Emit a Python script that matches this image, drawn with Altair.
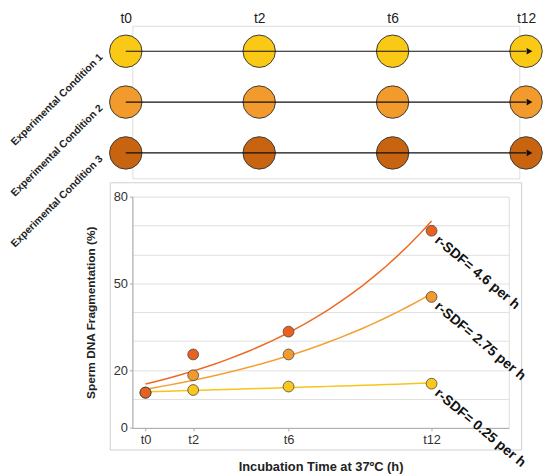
import altair as alt
import pandas as pd

# ---------------- data ----------------
time_labels = ["t0", "t2", "t6", "t12"]
hours = [0, 2, 6, 12]
conditions = ["Experimental Condition 1", "Experimental Condition 2", "Experimental Condition 3"]
sdf_cond1 = [12.2, 13.1, 14.3, 15.3]
sdf_cond2 = [12.2, 18.2, 25.4, 45.3]
sdf_cond3 = [12.2, 25.4, 33.3, 68.2]
rate_labels = ["r-SDF= 0.25 per h", "r-SDF= 2.75 per h", "r-SDF= 4.6 per h"]
y_label_values = [0, 20, 50, 80]
y_grid_values = [0, 10, 20, 30, 40, 50, 60, 70, 80]

# ---------------- styles ----------------
top_colors = ["#F9C916", "#F39A2C", "#C8640F"]
point_colors = ["#F8C81B", "#F39A2C", "#E8611E"]
line_colors = ["#F7C51A", "#F5A032", "#EE6A24"]
FONT = "Liberation Sans"

# ---------------- top diagram ----------------
top_df = pd.DataFrame([{"condition": c, "time": t} for c in conditions for t in time_labels])

x_top = alt.X(
    "time:N", sort=time_labels,
    scale=alt.Scale(type="point", range=[-6.7, 398.8], padding=0),
    axis=alt.Axis(orient="top", title=None, domain=False, ticks=False, labelAngle=0,
                  labelFontSize=14, labelPadding=0, labelColor="#222", labelFont=FONT),
)
y_top = alt.Y(
    "condition:N", sort=conditions,
    scale=alt.Scale(type="point", padding=0.5),
    axis=alt.Axis(title=None, domain=False, ticks=False, labelAngle=-45, labelAlign="right",
                  labelBaseline="middle", labelPadding=32, labelOffset=4, labelFontSize=10.5,
                  labelFontWeight="bold", labelOverlap=False, labelLimit=0, labelColor="#222",
                  labelFont=FONT),
)

base_top = alt.Chart(top_df)
circles = base_top.mark_circle(size=1080, opacity=1, stroke="#3a3a3a", strokeWidth=1).encode(
    x=x_top, y=y_top,
    color=alt.Color("condition:N", scale=alt.Scale(domain=conditions, range=top_colors), legend=None),
)
arrow_line = base_top.mark_line(color="#111", strokeWidth=1.2).encode(
    x=x_top, y=y_top, detail="condition:N"
)
arrow_head = base_top.transform_filter(alt.datum.time == time_labels[-1]).mark_point(
    shape="triangle-right", filled=True, size=45, color="#111", opacity=1, xOffset=3.5
).encode(x=x_top, y=y_top)

top = alt.layer(circles, arrow_line, arrow_head).properties(width=392, height=154.5)

# ---------------- bottom chart ----------------
rows = []
for cond, vals in zip(conditions, [sdf_cond1, sdf_cond2, sdf_cond3]):
    for h, v in zip(hours, vals):
        rows.append({"condition": cond, "hours": h, "sdf": v})
df = pd.DataFrame(rows)

ann_df = pd.DataFrame({
    "hours": [hours[-1]] * 3,
    "sdf": [sdf_cond1[-1], sdf_cond2[-1], sdf_cond3[-1]],
    "label": rate_labels,
})

label_expr = "[" + ",".join(f"'{t}'" for t in time_labels) + "][indexof([" + ",".join(str(h) for h in hours) + "], datum.value)]"
x_b = alt.X(
    "hours:Q",
    scale=alt.Scale(domain=[-0.551, 15.238], nice=False, zero=False),
    axis=alt.Axis(values=hours, labelExpr=label_expr, grid=False, title="Incubation Time at 37ºC (h)",
                  labelFontSize=13, labelColor="#333", labelPadding=3, tickSize=3,
                  domainColor="#aaa", tickColor="#aaa", titleFontSize=13, titleFontWeight="bold",
                  titleColor="#222", titlePadding=14, labelFont=FONT, titleFont=FONT),
)
y_label_test = "indexof([" + ",".join(str(v) for v in y_label_values) + "], datum.value) >= 0"
y_b = alt.Y(
    "sdf:Q",
    scale=alt.Scale(domain=[0, 80], nice=False),
    axis=alt.Axis(values=y_grid_values,
                  labelExpr=f"{y_label_test} ? datum.label : ''",
                  gridColor="#e0e0e0",
                  gridOpacity={"condition": {"test": "datum.value == 0 || datum.value == 80", "value": 0}, "value": 1},
                  tickOpacity={"condition": {"test": y_label_test, "value": 1}, "value": 0},
                  title="Sperm DNA Fragmentation (%)", labelFontSize=13, labelColor="#333",
                  labelPadding=2, tickSize=3, domainColor="#aaa", tickColor="#aaa",
                  titleFontSize=12, titleFontWeight="bold", titleColor="#222", titlePadding=16,
                  labelFont=FONT, titleFont=FONT),
)

frame = alt.Chart(pd.DataFrame({"frame": [0]})).mark_rect(
    fillOpacity=0, stroke="#cfcfcf", strokeWidth=1
).encode(x=alt.value(-22.4), x2=alt.value(394.3), y=alt.value(-14), y2=alt.value(256.7))

# exponential trend lines (least squares on log values, like a spreadsheet trendline)
fit_lines = alt.Chart(df).transform_calculate(
    logsdf="log(datum.sdf)"
).transform_regression(
    "hours", "logsdf", method="poly", order=1, groupby=["condition"]
).transform_calculate(
    sdf="exp(datum.logsdf)"
).mark_line(strokeWidth=1.5).encode(
    x=x_b, y=y_b,
    stroke=alt.Stroke("condition:N", scale=alt.Scale(domain=conditions, range=line_colors), legend=None),
)

points = alt.Chart(df).mark_circle(size=120, opacity=1, stroke="#444", strokeWidth=0.8).encode(
    x=x_b, y=y_b,
    fill=alt.Fill("condition:N", scale=alt.Scale(domain=conditions, range=point_colors), legend=None),
)

ann = alt.Chart(ann_df).mark_text(
    angle=40, align="left", baseline="middle", fontSize=14, fontWeight="bold", font=FONT,
    color="#111", xOffset=5, yOffset=8
).encode(x=x_b, y=y_b, text="label:N")

bottom = alt.layer(frame, fit_lines, points, ann).properties(width=381.3, height=234.3)

chart = alt.vconcat(top, bottom, spacing=18, bounds="flush").resolve_scale(
    color="independent", fill="independent", stroke="independent"
).configure_view(strokeOpacity=0).configure(font=FONT).properties(padding=0)

chart.save("out.html", embed_options={"renderer": "svg", "actions": False})
